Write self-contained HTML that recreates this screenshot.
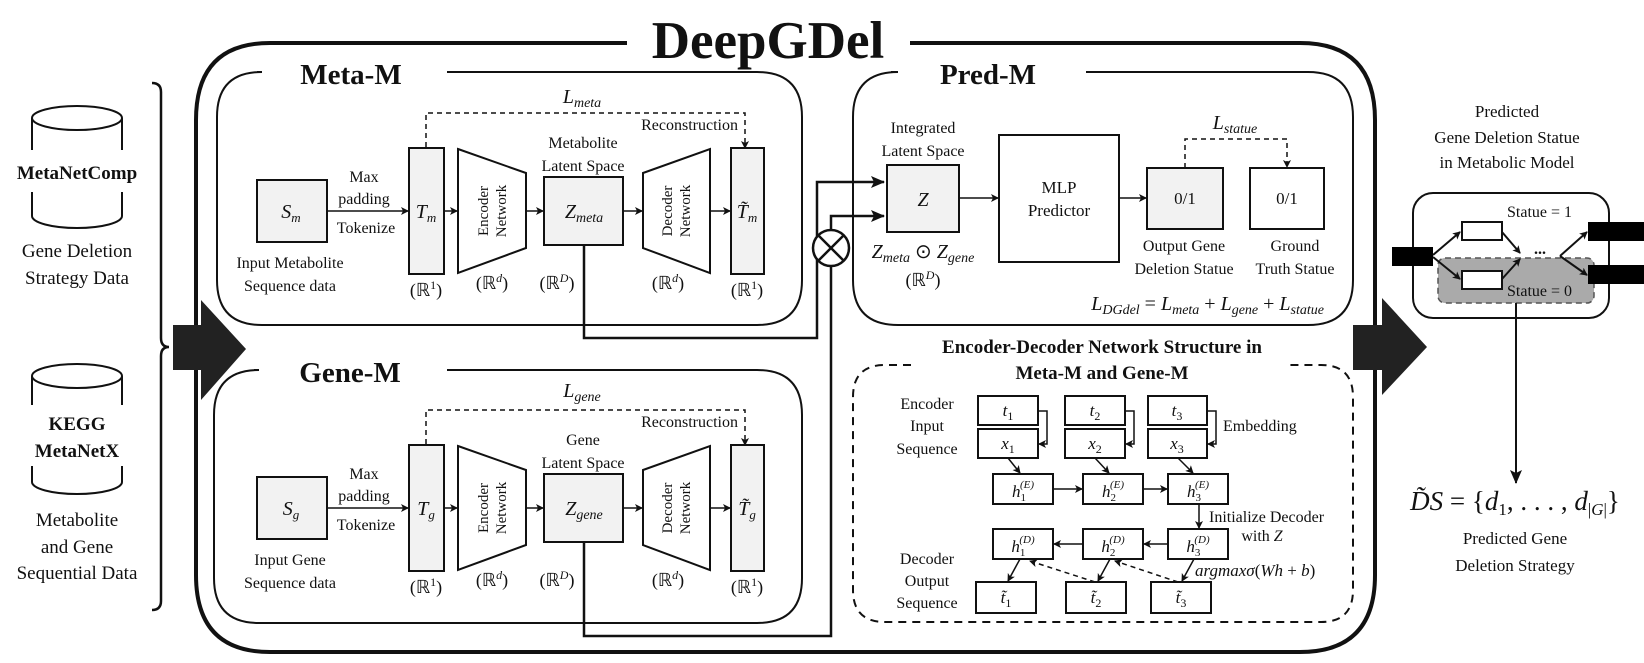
<!DOCTYPE html>
<html><head><meta charset="utf-8"><style>
html,body{margin:0;padding:0;background:#fff}
svg{display:block}
text{font-family:"Liberation Serif",serif;fill:#111}
.b{font-weight:bold}
.i{font-style:italic}
</style></head><body>
<svg width="1644" height="663" viewBox="0 0 1644 663" xmlns="http://www.w3.org/2000/svg">
<defs>
<marker id="a" markerWidth="8" markerHeight="8" refX="7" refY="4" orient="auto" markerUnits="userSpaceOnUse"><path d="M0,0 L8,4 L0,8 L2,4 z" fill="#111"/></marker>
<marker id="ab" markerWidth="14" markerHeight="12" refX="13" refY="6" orient="auto" markerUnits="userSpaceOnUse"><path d="M0,0 L14,6 L0,12 L3,6 z" fill="#111"/></marker>
</defs>
<g fill="none" stroke="#111">
<path d="M627,43 L270,43 Q196,43 196,120 L196,575 Q196,652 270,652 L1300,652 Q1375,652 1375,575 L1375,120 Q1375,43 1300,43 L910,43" stroke-width="4"/>
<path d="M257,72 L262,72 Q217,72 217,117 L217,280 Q217,325 262,325 L757,325 Q802,325 802,280 L802,117 Q802,72 757,72 L447,72" stroke-width="2"/>
<path d="M254,370 L259,370 Q214,370 214,415 L214,578 Q214,623 259,623 L757,623 Q802,623 802,578 L802,415 Q802,370 757,370 L447,370" stroke-width="2"/>
<path d="M891,72 L898,72 Q853,72 853,117 L853,280 Q853,325 898,325 L1308,325 Q1353,325 1353,280 L1353,117 Q1353,72 1308,72 L1086,72" stroke-width="2"/>
<path d="M911,365 L885,365 Q853,365 853,397 L853,590 Q853,622 885,622 L1321,622 Q1353,622 1353,590 L1353,397 Q1353,365 1321,365 L1290,365" stroke-width="2" stroke-dasharray="8,6"/>
<path d="M152,83 Q161,83 161,92 L161,338 Q161,347 169,347 Q161,347 161,356 L161,601 Q161,610 152,610" stroke-width="2.5"/>
<g stroke-width="2">
<ellipse cx="77" cy="118" rx="45" ry="12"/>
<path d="M32,118 L32,150 M122,118 L122,150 M32,192 L32,216 M122,192 L122,216 M32,216 A45,12 0 0 0 122,216"/>
<ellipse cx="77" cy="376" rx="45" ry="12"/>
<path d="M32,376 L32,405 M122,376 L122,405 M32,466 L32,482 M122,466 L122,482 M32,482 A45,12 0 0 0 122,482"/>
</g>
</g>
<path d="M173,325 L201,325 L201,300 L246,349 L201,400 L201,370 L173,370 z" fill="#222"/>
<path d="M1353,325 L1382,325 L1382,298 L1427,347 L1382,395 L1382,370 L1353,370 z" fill="#222"/>

<text x="768" y="58" font-size="53" class="b" text-anchor="middle">DeepGDel</text>
<text x="351" y="84" font-size="29" class="b" text-anchor="middle">Meta-M</text>
<text x="350" y="382" font-size="29" class="b" text-anchor="middle">Gene-M</text>
<text x="988" y="84" font-size="29" class="b" text-anchor="middle">Pred-M</text>

<g font-size="19" text-anchor="middle">
<text x="77" y="179" class="b">MetaNetComp</text>
<text x="77" y="257">Gene Deletion</text>
<text x="77" y="284">Strategy Data</text>
<text x="77" y="430" class="b">KEGG</text>
<text x="77" y="457" class="b">MetaNetX</text>
<text x="77" y="526">Metabolite</text>
<text x="77" y="553">and Gene</text>
<text x="77" y="579">Sequential Data</text>
</g>

<g>
<g fill="none" stroke="#111">
<path d="M426,147 L426,113 L745,113 L745,148" stroke-width="1.5" stroke-dasharray="5,4" marker-end="url(#a)"/>
<rect x="257" y="180" width="70" height="62" fill="#f2f2f2" stroke-width="2"/>
<line x1="327" y1="211" x2="408" y2="211" stroke-width="1.5" marker-end="url(#a)"/>
<rect x="409" y="148" width="35" height="126" fill="#f2f2f2" stroke-width="2"/>
<line x1="444" y1="211" x2="457" y2="211" stroke-width="1.5" marker-end="url(#a)"/>
<path d="M458,149 L526,173 L526,248 L458,273 z" fill="#fff" stroke-width="2"/>
<line x1="526" y1="211" x2="543" y2="211" stroke-width="1.5" marker-end="url(#a)"/>
<rect x="544" y="177" width="79" height="68" fill="#f2f2f2" stroke-width="2"/>
<line x1="623" y1="211" x2="642" y2="211" stroke-width="1.5" marker-end="url(#a)"/>
<path d="M643,173 L710,149 L710,273 L643,248 z" fill="#fff" stroke-width="2"/>
<line x1="710" y1="211" x2="730" y2="211" stroke-width="1.5" marker-end="url(#a)"/>
<rect x="731" y="148" width="33" height="126" fill="#f2f2f2" stroke-width="2"/>
</g>
<g font-size="16" text-anchor="middle">
<text x="738" y="130" text-anchor="end">Reconstruction</text>
<text x="364" y="182">Max</text>
<text x="364" y="204">padding</text>
<text x="366" y="233">Tokenize</text>
<text x="583" y="148">Metabolite</text>
<text x="583" y="171">Latent Space</text>
<text x="290" y="268">Input Metabolite</text>
<text x="290" y="291">Sequence data</text>
<text x="426" y="296" font-size="18">(ℝ<tspan font-size="12" dy="-7">1</tspan><tspan dy="7">)</tspan></text>
<text x="492" y="289" font-size="18">(ℝ<tspan font-size="12" dy="-7" class="i">d</tspan><tspan dy="7">)</tspan></text>
<text x="557" y="289" font-size="18">(ℝ<tspan font-size="12" dy="-7" class="i">D</tspan><tspan dy="7">)</tspan></text>
<text x="668" y="289" font-size="18">(ℝ<tspan font-size="12" dy="-7" class="i">d</tspan><tspan dy="7">)</tspan></text>
<text x="747" y="296" font-size="18">(ℝ<tspan font-size="12" dy="-7">1</tspan><tspan dy="7">)</tspan></text>
<text x="492" y="211" font-size="15" transform="rotate(-90 492 211)"><tspan x="492" dy="-4">Encoder</tspan><tspan x="492" dy="18">Network</tspan></text>
<text x="676" y="211" font-size="15" transform="rotate(-90 676 211)"><tspan x="676" dy="-4">Decoder</tspan><tspan x="676" dy="18">Network</tspan></text>
</g>
</g>
<g font-size="20" class="i" text-anchor="middle">
<text x="582" y="103">L<tspan font-size="14" dy="4">meta</tspan></text>
<text x="291" y="218">S<tspan font-size="13" dy="4">m</tspan></text>
<text x="426" y="218">T<tspan font-size="13" dy="4">m</tspan></text>
<text x="584" y="218">Z<tspan font-size="14" dy="4">meta</tspan></text>
<text x="747" y="218">T̃<tspan font-size="13" dy="4">m</tspan></text>
</g>

<g transform="translate(0,297)">
<g fill="none" stroke="#111">
<path d="M426,147 L426,113 L745,113 L745,148" stroke-width="1.5" stroke-dasharray="5,4" marker-end="url(#a)"/>
<rect x="257" y="180" width="70" height="62" fill="#f2f2f2" stroke-width="2"/>
<line x1="327" y1="211" x2="408" y2="211" stroke-width="1.5" marker-end="url(#a)"/>
<rect x="409" y="148" width="35" height="126" fill="#f2f2f2" stroke-width="2"/>
<line x1="444" y1="211" x2="457" y2="211" stroke-width="1.5" marker-end="url(#a)"/>
<path d="M458,149 L526,173 L526,248 L458,273 z" fill="#fff" stroke-width="2"/>
<line x1="526" y1="211" x2="543" y2="211" stroke-width="1.5" marker-end="url(#a)"/>
<rect x="544" y="177" width="79" height="68" fill="#f2f2f2" stroke-width="2"/>
<line x1="623" y1="211" x2="642" y2="211" stroke-width="1.5" marker-end="url(#a)"/>
<path d="M643,173 L710,149 L710,273 L643,248 z" fill="#fff" stroke-width="2"/>
<line x1="710" y1="211" x2="730" y2="211" stroke-width="1.5" marker-end="url(#a)"/>
<rect x="731" y="148" width="33" height="126" fill="#f2f2f2" stroke-width="2"/>
</g>
<g font-size="16" text-anchor="middle">
<text x="738" y="130" text-anchor="end">Reconstruction</text>
<text x="364" y="182">Max</text>
<text x="364" y="204">padding</text>
<text x="366" y="233">Tokenize</text>
<text x="583" y="148">Gene</text>
<text x="583" y="171">Latent Space</text>
<text x="290" y="268">Input Gene</text>
<text x="290" y="291">Sequence data</text>
<text x="426" y="296" font-size="18">(ℝ<tspan font-size="12" dy="-7">1</tspan><tspan dy="7">)</tspan></text>
<text x="492" y="289" font-size="18">(ℝ<tspan font-size="12" dy="-7" class="i">d</tspan><tspan dy="7">)</tspan></text>
<text x="557" y="289" font-size="18">(ℝ<tspan font-size="12" dy="-7" class="i">D</tspan><tspan dy="7">)</tspan></text>
<text x="668" y="289" font-size="18">(ℝ<tspan font-size="12" dy="-7" class="i">d</tspan><tspan dy="7">)</tspan></text>
<text x="747" y="296" font-size="18">(ℝ<tspan font-size="12" dy="-7">1</tspan><tspan dy="7">)</tspan></text>
<text x="492" y="211" font-size="15" transform="rotate(-90 492 211)"><tspan x="492" dy="-4">Encoder</tspan><tspan x="492" dy="18">Network</tspan></text>
<text x="676" y="211" font-size="15" transform="rotate(-90 676 211)"><tspan x="676" dy="-4">Decoder</tspan><tspan x="676" dy="18">Network</tspan></text>
</g>
<g font-size="20" class="i" text-anchor="middle">
<text x="582" y="100">L<tspan font-size="14" dy="4">gene</tspan></text>
<text x="291" y="218">S<tspan font-size="13" dy="4">g</tspan></text>
<text x="426" y="218">T<tspan font-size="13" dy="4">g</tspan></text>
<text x="584" y="218">Z<tspan font-size="14" dy="4">gene</tspan></text>
<text x="747" y="218">T̃<tspan font-size="13" dy="4">g</tspan></text>
</g>
</g>

<g fill="none" stroke="#111" stroke-width="2.5">
<path d="M584,245 L584,338 L817,338 L817,182 L884,182" marker-end="url(#ab)"/>
<path d="M584,542 L584,636 L831,636 L831,266"/>
<path d="M831,229 L831,216 L884,216" marker-end="url(#ab)"/>
<circle cx="831" cy="248" r="18" fill="#fff"/>
<path d="M818,235 L844,261 M844,235 L818,261"/>
</g>

<g fill="none" stroke="#111" stroke-width="2">
<rect x="887" y="165" width="72" height="67" fill="#f2f2f2"/>
<line x1="959" y1="198" x2="998" y2="198" stroke-width="1.5" marker-end="url(#a)"/>
<rect x="999" y="135" width="120" height="127" fill="#fff"/>
<line x1="1119" y1="198" x2="1146" y2="198" stroke-width="1.5" marker-end="url(#a)"/>
<rect x="1147" y="168" width="76" height="61" fill="#f2f2f2"/>
<rect x="1250" y="168" width="74" height="61" fill="#fff"/>
<path d="M1185,168 L1185,139 L1287,139 L1287,167" stroke-width="1.5" stroke-dasharray="5,4" marker-end="url(#a)"/>
</g>
<g font-size="16" text-anchor="middle">
<text x="923" y="133">Integrated</text>
<text x="923" y="156">Latent Space</text>
<text x="1059" y="193" font-size="17">MLP</text>
<text x="1059" y="216" font-size="17">Predictor</text>
<text x="1185" y="204" font-size="17">0/1</text>
<text x="1287" y="204" font-size="17">0/1</text>
<text x="1184" y="251">Output Gene</text>
<text x="1184" y="274">Deletion Statue</text>
<text x="1295" y="251">Ground</text>
<text x="1295" y="274">Truth Statue</text>
<text x="923" y="206" font-size="20" class="i">Z</text>
<text x="923" y="258" font-size="20"><tspan class="i">Z</tspan><tspan class="i" font-size="14" dy="4">meta</tspan><tspan dy="-4"> ⊙ </tspan><tspan class="i">Z</tspan><tspan class="i" font-size="14" dy="4">gene</tspan></text>
<text x="923" y="286" font-size="18">(ℝ<tspan font-size="12" dy="-7" class="i">D</tspan><tspan dy="7">)</tspan></text>
<text x="1235" y="129" font-size="20" class="i">L<tspan font-size="14" dy="4">statue</tspan></text>
<text x="1324" y="310" font-size="20" text-anchor="end"><tspan class="i">L</tspan><tspan class="i" font-size="14" dy="4">DGdel</tspan><tspan dy="-4"> = </tspan><tspan class="i">L</tspan><tspan class="i" font-size="14" dy="4">meta</tspan><tspan dy="-4"> + </tspan><tspan class="i">L</tspan><tspan class="i" font-size="14" dy="4">gene</tspan><tspan dy="-4"> + </tspan><tspan class="i">L</tspan><tspan class="i" font-size="14" dy="4">statue</tspan></text>
</g>

<text x="1102" y="353" font-size="19" class="b" text-anchor="middle">Encoder-Decoder Network Structure in</text>
<text x="1102" y="379" font-size="19" class="b" text-anchor="middle">Meta-M and Gene-M</text>
<g fill="#fff" stroke="#111" stroke-width="2">
<rect x="978" y="396" width="60" height="29"/><rect x="978" y="429" width="60" height="29"/>
<rect x="1065" y="396" width="60" height="29"/><rect x="1065" y="429" width="60" height="29"/>
<rect x="1148" y="396" width="59" height="29"/><rect x="1148" y="429" width="59" height="29"/>
<rect x="993" y="474" width="60" height="30"/><rect x="1083" y="474" width="60" height="30"/><rect x="1168" y="474" width="60" height="30"/>
<rect x="993" y="529" width="60" height="30"/><rect x="1083" y="529" width="60" height="30"/><rect x="1168" y="529" width="60" height="30"/>
<rect x="976" y="582" width="60" height="31"/><rect x="1066" y="582" width="60" height="31"/><rect x="1151" y="582" width="60" height="31"/>
</g>
<g fill="none" stroke="#111" stroke-width="1.5">
<path d="M1038,411 L1047,411 L1047,444 L1039,444" marker-end="url(#a)"/>
<path d="M1125,411 L1134,411 L1134,444 L1126,444" marker-end="url(#a)"/>
<path d="M1207,411 L1216,411 L1216,444 L1208,444" marker-end="url(#a)"/>
<line x1="1008" y1="458" x2="1020" y2="473" marker-end="url(#a)"/>
<line x1="1095" y1="458" x2="1109" y2="473" marker-end="url(#a)"/>
<line x1="1178" y1="458" x2="1193" y2="473" marker-end="url(#a)"/>
<line x1="1053" y1="489" x2="1082" y2="489" marker-end="url(#a)"/>
<line x1="1143" y1="489" x2="1167" y2="489" marker-end="url(#a)"/>
<line x1="1199" y1="504" x2="1199" y2="528" marker-end="url(#a)"/>
<line x1="1168" y1="544" x2="1144" y2="544" marker-end="url(#a)"/>
<line x1="1083" y1="544" x2="1054" y2="544" marker-end="url(#a)"/>
<line x1="1020" y1="559" x2="1008" y2="581" marker-end="url(#a)"/>
<line x1="1110" y1="559" x2="1098" y2="581" marker-end="url(#a)"/>
<line x1="1194" y1="559" x2="1182" y2="581" marker-end="url(#a)"/>
<line x1="1095" y1="582" x2="1030" y2="561" stroke-dasharray="5,4" marker-end="url(#a)"/>
<line x1="1178" y1="582" x2="1115" y2="561" stroke-dasharray="5,4" marker-end="url(#a)"/>
</g>
<g font-size="16" text-anchor="middle">
<text x="927" y="409">Encoder</text><text x="927" y="431">Input</text><text x="927" y="454">Sequence</text>
<text x="927" y="564">Decoder</text><text x="927" y="586">Output</text><text x="927" y="608">Sequence</text>
<text x="1223" y="431" text-anchor="start">Embedding</text>
<text x="1209" y="522" text-anchor="start">Initialize Decoder</text>
<text x="1262" y="541">with <tspan class="i">Z</tspan></text>
<text x="1195" y="576" text-anchor="start" font-size="17" class="i">argmaxσ<tspan font-style="normal">(</tspan>Wh<tspan font-style="normal"> + </tspan>b<tspan font-style="normal">)</tspan></text>
</g>
<g font-size="17" class="i" text-anchor="middle">
<text x="1008" y="416">t<tspan font-size="12" dy="4" font-style="normal">1</tspan></text>
<text x="1095" y="416">t<tspan font-size="12" dy="4" font-style="normal">2</tspan></text>
<text x="1177" y="416">t<tspan font-size="12" dy="4" font-style="normal">3</tspan></text>
<text x="1008" y="449">x<tspan font-size="12" dy="4" font-style="normal">1</tspan></text>
<text x="1095" y="449">x<tspan font-size="12" dy="4" font-style="normal">2</tspan></text>
<text x="1177" y="449">x<tspan font-size="12" dy="4" font-style="normal">3</tspan></text>
<text x="1023" y="497">h<tspan font-size="11" dy="4" font-style="normal">1</tspan><tspan font-size="11" dx="-6" dy="-13">(E)</tspan></text>
<text x="1113" y="497">h<tspan font-size="11" dy="4" font-style="normal">2</tspan><tspan font-size="11" dx="-6" dy="-13">(E)</tspan></text>
<text x="1198" y="497">h<tspan font-size="11" dy="4" font-style="normal">3</tspan><tspan font-size="11" dx="-6" dy="-13">(E)</tspan></text>
<text x="1023" y="552">h<tspan font-size="11" dy="4" font-style="normal">1</tspan><tspan font-size="11" dx="-6" dy="-13">(D)</tspan></text>
<text x="1113" y="552">h<tspan font-size="11" dy="4" font-style="normal">2</tspan><tspan font-size="11" dx="-6" dy="-13">(D)</tspan></text>
<text x="1198" y="552">h<tspan font-size="11" dy="4" font-style="normal">3</tspan><tspan font-size="11" dx="-6" dy="-13">(D)</tspan></text>
<text x="1006" y="603">t̃<tspan font-size="12" dy="4" font-style="normal">1</tspan></text>
<text x="1096" y="603">t̃<tspan font-size="12" dy="4" font-style="normal">2</tspan></text>
<text x="1181" y="603">t̃<tspan font-size="12" dy="4" font-style="normal">3</tspan></text>
</g>

<g font-size="17" text-anchor="middle">
<text x="1507" y="117">Predicted</text>
<text x="1507" y="143">Gene Deletion Statue</text>
<text x="1507" y="168">in Metabolic Model</text>
<text x="1515" y="544">Predicted Gene</text>
<text x="1515" y="571">Deletion Strategy</text>
</g>
<rect x="1413" y="193" width="196" height="125" rx="20" fill="#fff" stroke="#111" stroke-width="2"/>
<rect x="1438" y="258" width="156" height="45" rx="7" fill="#aaa" stroke="#555" stroke-width="1.5" stroke-dasharray="6,4"/>
<rect x="1392" y="247" width="41" height="19" fill="#000"/>
<rect x="1588" y="222" width="56" height="19" fill="#000"/>
<rect x="1588" y="265" width="56" height="19" fill="#000"/>
<rect x="1462" y="222" width="40" height="18" fill="#fff" stroke="#111" stroke-width="2"/>
<rect x="1462" y="271" width="40" height="18" fill="#fff" stroke="#111" stroke-width="2"/>
<g stroke="#111" stroke-width="2" fill="none">
<line x1="1433" y1="255" x2="1460" y2="232" marker-end="url(#a)"/>
<line x1="1433" y1="257" x2="1460" y2="279" marker-end="url(#a)"/>
<line x1="1502" y1="232" x2="1520" y2="253" marker-end="url(#a)"/>
<line x1="1502" y1="279" x2="1520" y2="259" marker-end="url(#a)"/>
<line x1="1560" y1="256" x2="1587" y2="232" marker-end="url(#a)"/>
<line x1="1560" y1="256" x2="1587" y2="275" marker-end="url(#a)"/>
<line x1="1516" y1="303" x2="1516" y2="483" marker-end="url(#ab)"/>
</g>
<text x="1540" y="254" font-size="16" class="b" text-anchor="middle">...</text>
<text x="1507" y="217" font-size="16">Statue = 1</text>
<text x="1507" y="296" font-size="16">Statue = 0</text>
<text x="1515" y="510" font-size="27" class="i" text-anchor="middle">D̃S<tspan font-style="normal"> = {</tspan>d<tspan font-size="17" dy="5" font-style="normal">1</tspan><tspan dy="-5" font-style="normal">, . . . , </tspan>d<tspan font-size="17" dy="5" font-style="normal">|</tspan><tspan font-size="17">G</tspan><tspan font-size="17" font-style="normal">|</tspan><tspan dy="-5" font-style="normal">}</tspan></text>
</svg>
</body></html>
